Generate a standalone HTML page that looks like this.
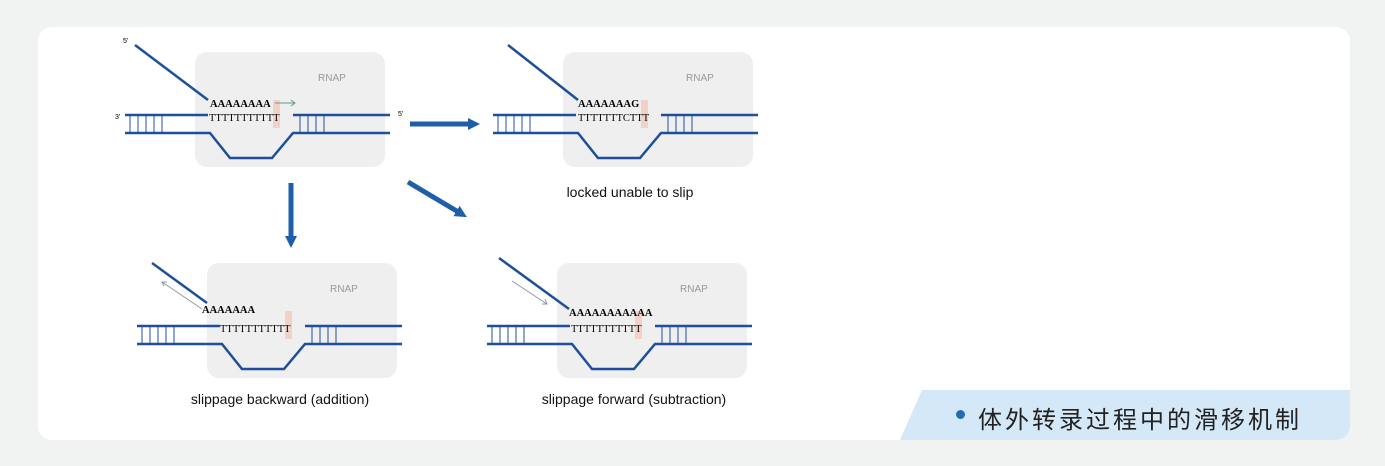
<!DOCTYPE html>
<html><head><meta charset="utf-8"><style>
body{margin:0;width:1385px;height:466px;background:#f1f3f2;overflow:hidden;font-family:"Liberation Sans",sans-serif}
.card{position:absolute;left:38px;top:27px;width:1312px;height:413px;background:#fff;border-radius:14px}
.band{position:absolute;left:900px;top:390px;width:450px;height:50px;background:#d4e8f7;clip-path:polygon(22px 0,100% 0,100% 100%,0 100%);border-bottom-right-radius:14px}
.band span{position:absolute;left:78px;top:10px;font:24px "Liberation Sans","Noto Sans CJK SC",sans-serif;letter-spacing:3px;color:#222}
.band i{position:absolute;left:56px;top:20px;width:9px;height:9px;border-radius:50%;background:#1f6db3}
svg{position:absolute;left:0;top:0}
</style></head><body>
<div class="card"></div>
<svg width="1385" height="466">
<defs>
<g id="p">
 <rect x="70" y="-63" width="190" height="115" rx="12" fill="#efefef"/>
 <text x="193" y="-34" font-size="10" fill="#999">RNAP</text>
 <rect x="148" y="-15" width="7" height="28" fill="#f3c9bf" opacity=".8"/>
 <path d="M0 0H83M168 0H265" stroke="#1f4f9a" stroke-width="2.5" fill="none"/>
 <path d="M0 18H85L105 43H147L168 18H265" stroke="#1f4f9a" stroke-width="2.5" fill="none"/>
 <path d="M5 1V17M13 1V17M21 1V17M29 1V17M37 1V17M175 1V17M183 1V17M191 1V17M199 1V17" stroke="#1f4f9a" stroke-width="1"/>
</g>
<marker id="ah" markerUnits="userSpaceOnUse" markerWidth="12" markerHeight="12" refX="4" refY="6" orient="auto"><path d="M0 0L12 6L0 12z" fill="#1f5fa8"/></marker>
</defs>
<g transform="translate(125,115)"><use href="#p"/>
 <path d="M10 -70L83 -15" stroke="#1f4f9a" stroke-width="2.5"/>
 <text x="85" y="-8" font-family="Liberation Serif" font-size="10.5" font-weight="bold">AAAAAAAA</text>
 <path d="M150 -12H170M166 -15L170 -12L166 -9" stroke="#5a9a98" fill="none"/>
 <text x="84" y="6" font-family="Liberation Serif" font-size="10.5">TTTTTTTTTTT</text>
 <text x="-2" y="-72" font-size="7">5'</text><text x="-10" y="4" font-size="7">3'</text><text x="273" y="1" font-size="7">5'</text>
</g>
<g transform="translate(508,115)"><use href="#p" transform="translate(-15,0)"/>
 <path d="M0 -70L70 -15" stroke="#1f4f9a" stroke-width="2.5"/>
 <text x="70" y="-8" font-family="Liberation Serif" font-size="10.5" font-weight="bold">AAAAAAAG</text>
 <text x="70" y="6" font-family="Liberation Serif" font-size="10.5">TTTTTTTCTTT</text>
</g>
<text x="630" y="197" font-size="14" text-anchor="middle" fill="#111">locked unable to slip</text>
<g transform="translate(132,326)"><use href="#p" transform="translate(5,0)"/>
 <path d="M20 -63L75 -23" stroke="#1f4f9a" stroke-width="2.5"/>
 <path d="M70 -17L30 -44M35 -44L30 -44L32 -40" stroke="#8a9aa8" fill="none"/>
 <text x="70" y="-13" font-family="Liberation Serif" font-size="10.5" font-weight="bold">AAAAAAA</text>
 <text x="88" y="6" font-family="Liberation Serif" font-size="10.5">TTTTTTTTTTT</text>
</g>
<text x="280" y="404" font-size="14" text-anchor="middle" fill="#111">slippage backward (addition)</text>
<g transform="translate(487,326)"><use href="#p"/>
 <path d="M12 -68L82 -17" stroke="#1f4f9a" stroke-width="2.5"/>
 <path d="M25 -45L60 -22M55 -22L60 -22L58 -27" stroke="#8a9aa8" fill="none"/>
 <text x="82" y="-10" font-family="Liberation Serif" font-size="10.5" font-weight="bold">AAAAAAAAAAA</text>
 <text x="84" y="6" font-family="Liberation Serif" font-size="10.5">TTTTTTTTTTT</text>
</g>
<text x="634" y="404" font-size="14" text-anchor="middle" fill="#111">slippage forward (subtraction)</text>
<path d="M410 124H472" stroke="#1f5fa8" stroke-width="5" marker-end="url(#ah)"/>
<path d="M291 183V240" stroke="#1f5fa8" stroke-width="5" marker-end="url(#ah)"/>
<path d="M408 182L460 213" stroke="#1f5fa8" stroke-width="5" marker-end="url(#ah)"/>
</svg>
<div class="band"><i></i><span>体外转录过程中的滑移机制</span></div>
</body></html>
